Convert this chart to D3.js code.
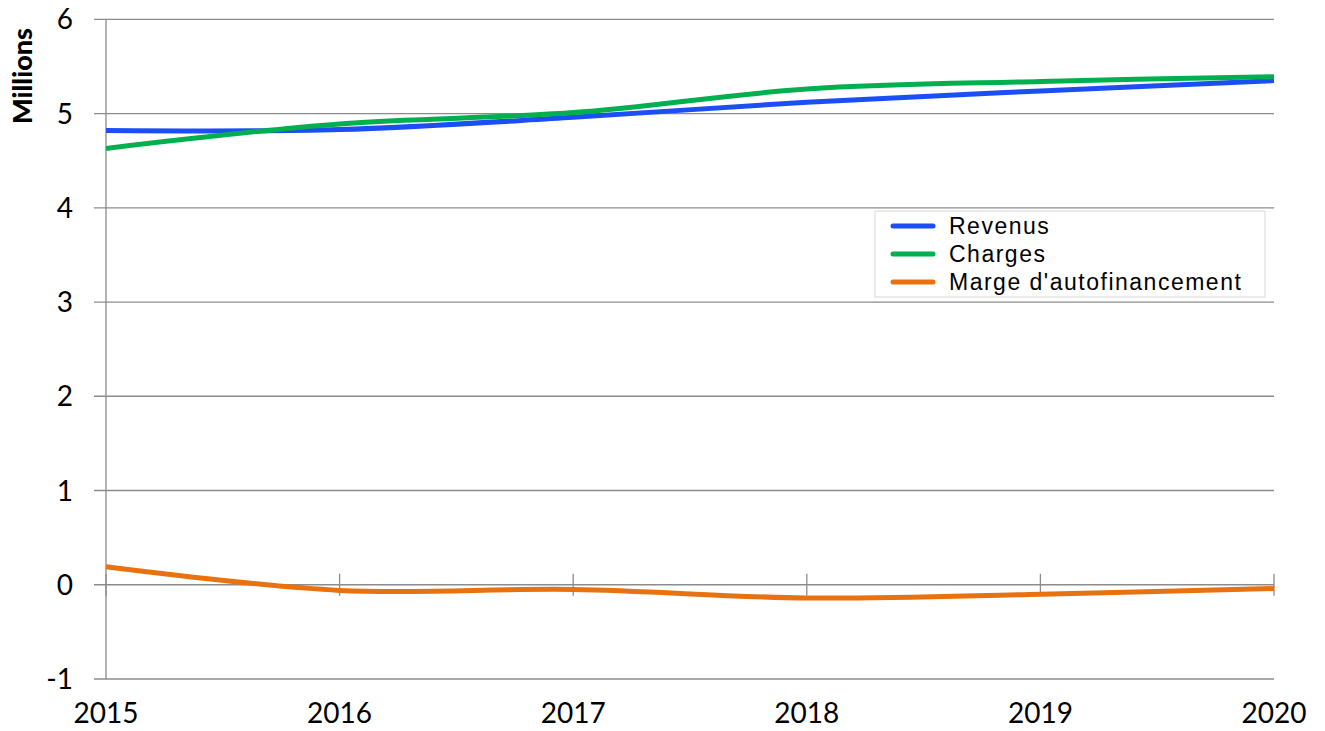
<!DOCTYPE html>
<html>
<head>
<meta charset="utf-8">
<script src="https://cdn.jsdelivr.net/npm/d3@7"></script>
<style>
  body { margin: 0; background: #fff; }
  svg { display: block; }
</style>
</head>
<body>
<div id="chart"></div>
<script>
// data (millions)
var years = [2015, 2016, 2017, 2018, 2019, 2020];
var revenus = [4.82, 4.83, 4.96, 5.12, 5.24, 5.35];
var charges = [4.63, 4.89, 5.01, 5.26, 5.34, 5.39];
var marge = [0.19, -0.06, -0.05, -0.14, -0.10, -0.04];
var yTicks = [-1, 0, 1, 2, 3, 4, 5, 6];

var series = [
  {name: "Revenus", values: revenus, color: "#1b4ff5"},
  {name: "Charges", values: charges, color: "#00b04f"},
  {name: "Marge d'autofinancement", values: marge, color: "#e8720f"}
];

var W = 1325, H = 731;
var margin = {top: 19.3, right: 51, bottom: 52, left: 106};
var width = W - margin.left - margin.right,
    height = H - margin.top - margin.bottom;

var svg = d3.select("#chart")
  .append("svg")
    .attr("width", W)
    .attr("height", H);

var g = svg.append("g")
    .attr("transform", "translate(" + margin.left + "," + margin.top + ")");

var x = d3.scaleLinear()
  .domain([2015, 2020])
  .range([0, width]);

var y = d3.scaleLinear()
  .domain([-1, 6])
  .range([height, 0]);

// horizontal gridlines with outside tick
g.append("g")
  .selectAll("line")
  .data(yTicks)
  .enter()
  .append("line")
    .attr("x1", -12)
    .attr("x2", width)
    .attr("y1", function(d) { return y(d); })
    .attr("y2", function(d) { return y(d); })
    .attr("stroke", "#8c8c8c")
    .attr("stroke-width", 1.3);

// y labels
g.append("g")
  .selectAll("text")
  .data(yTicks)
  .enter()
  .append("text")
    .attr("x", -33)
    .attr("y", function(d) { return y(d); })
    .attr("dy", "0.36em")
    .attr("text-anchor", "end")
    .style("font-family", "Lato, sans-serif")
    .style("font-size", "28px")
    .style("fill", "#000")
    .text(function(d) { return d; });

// vertical axis line
g.append("line")
  .attr("x1", 0).attr("x2", 0)
  .attr("y1", 0).attr("y2", height)
  .attr("stroke", "#8c8c8c")
  .attr("stroke-width", 1.3);

// x tick marks crossing the zero line
g.append("g")
  .selectAll("line")
  .data(years)
  .enter()
  .append("line")
    .attr("x1", function(d) { return x(d); })
    .attr("x2", function(d) { return x(d); })
    .attr("y1", y(0) - 11)
    .attr("y2", y(0) + 11)
    .attr("stroke", "#8c8c8c")
    .attr("stroke-width", 1.3);

// x labels
g.append("g")
  .selectAll("text")
  .data(years)
  .enter()
  .append("text")
    .attr("x", function(d) { return x(d); })
    .attr("y", height + 44)
    .attr("text-anchor", "middle")
    .style("font-family", "Lato, sans-serif")
    .style("font-size", "28px")
    .style("fill", "#000")
    .text(function(d) { return d; });

// y title
svg.append("text")
  .attr("transform", "translate(32,76)rotate(-90)")
  .attr("text-anchor", "middle")
  .style("font-family", "Lato, sans-serif")
  .style("font-weight", "900")
  .style("font-size", "27px")
  .style("fill", "#000")
  .text("Millions");

// lines
var line = d3.line()
  .x(function(d, i) { return x(years[i]); })
  .y(function(d) { return y(d); })
  .curve(d3.curveCatmullRom.alpha(0.5));

g.selectAll(".series")
  .data(series)
  .enter()
  .append("path")
    .attr("class", "series")
    .attr("d", function(d) { return line(d.values); })
    .attr("fill", "none")
    .attr("stroke", function(d) { return d.color; })
    .attr("stroke-width", 5);

// legend
var legend = svg.append("g")
  .attr("transform", "translate(875,211)");

legend.append("rect")
  .attr("width", 390)
  .attr("height", 86)
  .attr("fill", "#fff")
  .attr("stroke", "#d9d9d9")
  .attr("stroke-width", 1);

var items = legend.selectAll(".item")
  .data(series)
  .enter()
  .append("g")
    .attr("transform", function(d, i) { return "translate(0," + (15 + i * 28) + ")"; });

items.append("line")
  .attr("x1", 18).attr("x2", 58)
  .attr("stroke", function(d) { return d.color; })
  .attr("stroke-width", 5)
  .attr("stroke-linecap", "round");

items.append("text")
  .attr("x", 74)
  .attr("dy", "0.36em")
  .style("font-family", "'Liberation Sans', Arial, sans-serif")
  .style("font-size", "23px")
  .style("letter-spacing", "1.5px")
  .style("fill", "#000")
  .text(function(d) { return d.name; });
</script>
</body>
</html>
